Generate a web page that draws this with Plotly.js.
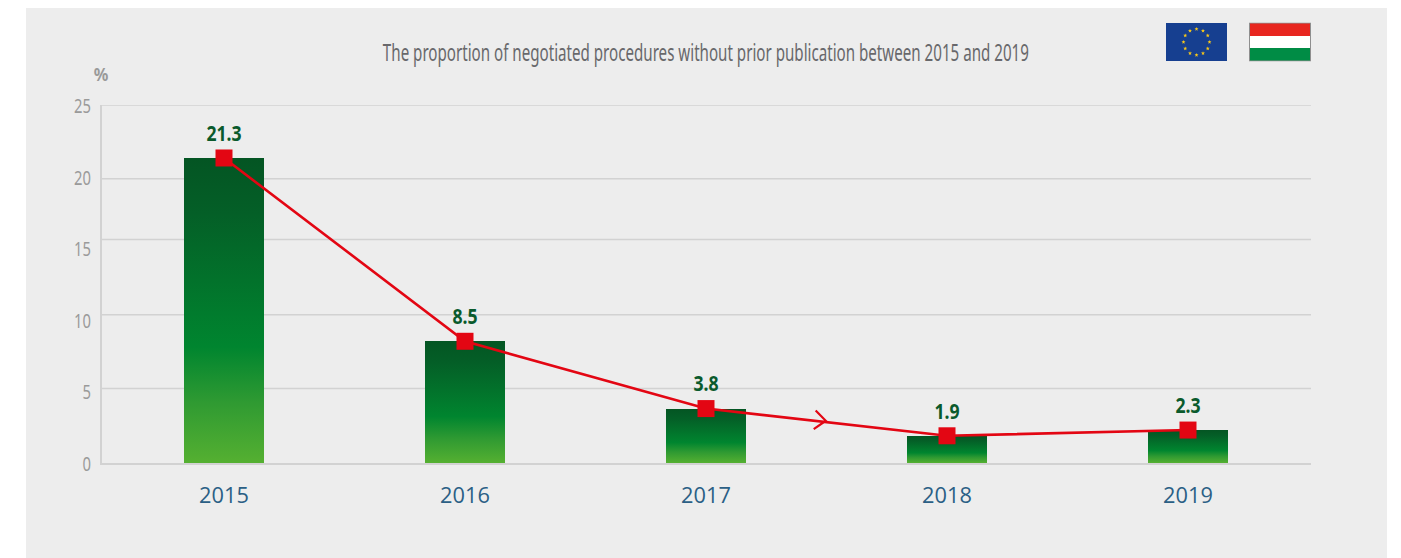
<!DOCTYPE html>
<html><head><meta charset="utf-8">
<script src="https://cdn.plot.ly/plotly-3.0.1.min.js"></script>
<style>html,body{margin:0;padding:0;background:#fff;overflow:hidden}#c{width:1401px;height:558px}</style>
</head><body><div id="c"></div>
<script>
const years=[2015,2016,2017,2018,2019];
const shares=[21.3,8.5,3.8,1.9,2.3];
const labels=['21.3','8.5','3.8','1.9','2.3'];
const yTicks=[0,5,10,15,20,25];
const gridLevels=[5.2,10.35,15.6,19.85,25];
const chevronX=[2017.455,2017.497,2017.447];
const chevronY=[3.67,2.95,2.37];
const titleText='The proportion of negotiated procedures without prior publication between 2015 and 2019';

const W=1401,H=558,L=102,R=1311,T=105,B=463;
const px=x=>(x-L)/(R-L), py=y=>(B-y)/(B-T);

function euFlag(){let s='';for(let i=0;i<12;i++){const a=i*Math.PI/6;
 let pts='';for(let k=0;k<10;k++){const r=k%2?0.9:2.1,b=k*Math.PI/5;
  pts+=`${30.5+13*Math.sin(a)+r*Math.sin(b)},${19+13*Math.cos(a)-r*Math.cos(b)} `;}
 s+=`<polygon points="${pts}" fill="#f6c61a"/>`;}
 return 'data:image/svg+xml;utf8,'+encodeURIComponent(`<svg xmlns="http://www.w3.org/2000/svg" width="61" height="38"><rect width="61" height="38" fill="#163f90"/>${s}</svg>`);}
function huFlag(){return 'data:image/svg+xml;utf8,'+encodeURIComponent(`<svg xmlns="http://www.w3.org/2000/svg" width="62" height="39"><rect width="62" height="39" fill="#8f8f8f"/><rect x="1" y="1" width="60" height="12.5" fill="#e8261f"/><rect x="1" y="13.5" width="60" height="12" fill="#fff"/><rect x="1" y="25.5" width="60" height="12.5" fill="#008c45"/></svg>`);}

const grey='#d2d2d2';
const shapes=[{type:'rect',xref:'paper',yref:'paper',layer:'below',x0:px(26),x1:px(1387),y0:py(558),y1:py(8),fillcolor:'#ededed',line:{width:0}}];
gridLevels.forEach(v=>shapes.push({type:'line',xref:'paper',yref:'y',layer:'below',x0:0,x1:1,y0:v,y1:v,line:{color:grey,width:1.5}}));

const data=[
 {type:'bar',x:years,y:shares,width:0.332,marker:{color:'#00842f',line:{width:0}},hoverinfo:'x+y',showlegend:false},
 {type:'scatter',mode:'lines+markers+text',x:years,y:shares,text:labels,textposition:'top center',
  textfont:{family:'"Noto Sans",sans-serif',size:22,color:'#0a5a2c',weight:700},
  line:{color:'#e30613',width:2.6},marker:{symbol:'square',size:17,color:'#e30613',line:{width:0}},cliponaxis:false,showlegend:false},
 {type:'scatter',mode:'lines',x:chevronX,y:chevronY,line:{color:'#e30613',width:2.2},hoverinfo:'skip',showlegend:false}
];
const layout={width:W,height:H,margin:{l:L,r:W-R,t:T,b:H-B,pad:0},paper_bgcolor:'#ffffff',plot_bgcolor:'rgba(0,0,0,0)',
 showlegend:false,bargap:0,shapes,
 xaxis:{type:'linear',range:[2015-(224-L)/241,2015+(R-224)/241],tickvals:years,ticktext:years.map(String),ticks:'',showgrid:false,zeroline:false,
  showline:true,linecolor:grey,linewidth:1.5,ticklabelstandoff:12,tickfont:{family:'"Open Sans",sans-serif',size:22,color:'#2b5f85'}},
 yaxis:{range:[0,25],tickvals:yTicks,ticktext:yTicks.map(String),ticks:'',showgrid:false,zeroline:false,
  showline:true,linecolor:grey,linewidth:2,ticklabelstandoff:5,tickfont:{family:'"Noto Sans",sans-serif',size:20,color:'#9a9a9a'}},
 annotations:[
  {xref:'paper',yref:'paper',x:px(706),y:py(52),xanchor:'center',yanchor:'middle',showarrow:false,text:titleText,
   font:{family:'"Noto Sans",sans-serif',size:23,color:'#68686b'}},
  {xref:'paper',yref:'paper',x:px(101),y:py(74),xanchor:'center',yanchor:'middle',showarrow:false,text:'<b>%</b>',
   font:{family:'"Noto Sans",sans-serif',size:18,color:'#9a9a9a'}}
 ],
 images:[
  {source:euFlag(),xref:'paper',yref:'paper',x:px(1166),y:py(23),sizex:61/(R-L),sizey:38/(B-T),xanchor:'left',yanchor:'top',sizing:'stretch',layer:'above'},
  {source:huFlag(),xref:'paper',yref:'paper',x:px(1249),y:py(22.5),sizex:62/(R-L),sizey:39/(B-T),xanchor:'left',yanchor:'top',sizing:'stretch',layer:'above'}
 ]};
function squeeze(el,ratio,dy){
 el.setAttribute('textLength',(el.getComputedTextLength()*ratio).toFixed(1));
 el.setAttribute('lengthAdjust','spacingAndGlyphs');
 if(dy)el.setAttribute('dy',dy);
}
Plotly.newPlot('c',data,layout,{displayModeBar:false,responsive:false}).then(gd=>{
 const svg=gd.querySelector('.main-svg');const NS='http://www.w3.org/2000/svg';
 const defs=svg.querySelector('defs')||svg.insertBefore(document.createElementNS(NS,'defs'),svg.firstChild);
 const g=document.createElementNS(NS,'linearGradient');g.setAttribute('id','barGrad');
 ['x1','x2','y1'].forEach(a=>g.setAttribute(a,'0'));g.setAttribute('y2','1');
 [[0,'#045523'],[0.18,'#045f27'],[0.62,'#00852f'],[0.8,'#2f9a32'],[1,'#55b031']].forEach(([o,c])=>{const s=document.createElementNS(NS,'stop');s.setAttribute('offset',o);s.setAttribute('stop-color',c);g.appendChild(s);});
 defs.appendChild(g);
 gd.querySelectorAll('.bars .point path').forEach(p=>{p.style.fill='url(#barGrad)';});
 gd.querySelectorAll('.ytick text').forEach(t=>squeeze(t,0.74,'1'));
 gd.querySelectorAll('.xtick text').forEach(t=>squeeze(t,0.99));
 gd.querySelectorAll('.textpoint text').forEach(t=>squeeze(t,0.8));
 const ann=gd.querySelectorAll('.annotation-text');
 ann[0].setAttribute('textLength','646');ann[0].setAttribute('lengthAdjust','spacingAndGlyphs');
 squeeze(ann[1],0.9);
});
</script></body></html>
